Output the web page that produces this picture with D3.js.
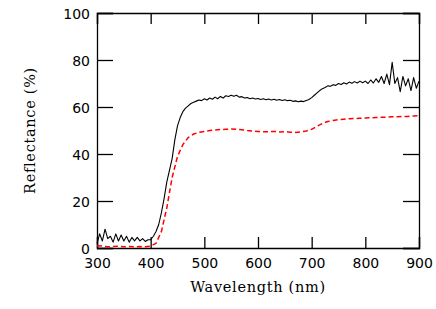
<!DOCTYPE html>
<html lang="en">
<head>
  <meta charset="UTF-8">
  <title>Reflectance</title>
  <script src="https://d3js.org/d3.v7.min.js"></script>
  <style>
  body { margin: 0; background: #fff; }
  .tick text { font-family: "DejaVu Sans", sans-serif; font-size: 14px; fill: #000; }
  .lab { font-family: "DejaVu Serif", serif; font-size: 14.5px; letter-spacing: 0.7px; }
  </style>
</head>
<body>
<div id="chart"></div>
<script>

// black curve, every 5 nm from 300 to 900
const wlBlack = d3.range(300, 901, 5);
const reflBlack = [
  2, 6, 3, 8, 4, 5, 2.5, 6, 3, 5.5,
  3, 5, 2.5, 4.5, 3, 4.5, 3, 4, 2.8, 3.5,
  3.5, 5, 7, 10, 15, 21, 28, 33, 38, 46,
  52, 55.5, 58, 59.5, 60.5, 61.5, 62, 62.5, 63, 62.7,
  63.5, 63, 63.8, 63.3, 64.2, 63.5, 64.5, 63.8, 64.8, 64.5,
  65, 64.6, 65, 64.2, 64.4, 63.8, 64, 63.5, 63.8, 63.4,
  63.6, 63.2, 63.5, 63.1, 63.4, 63, 63.3, 62.9, 63.2, 62.8,
  63.1, 62.7, 62.9, 62.4, 62.6, 62.2, 62.5, 62.3, 62.8, 63.2,
  64, 65, 66, 67, 67.8, 68.3, 69, 68.8, 69.5, 69.2,
  70, 69.6, 70.3, 69.8, 70.6, 70.1, 70.8, 70.2, 71, 70.3,
  71, 70, 71.5, 70.2, 72, 70.5, 73, 70, 74, 69.5,
  79, 70, 72.5, 66.5, 73, 69, 72, 67, 72.5, 68,
  71
];

// red dashed curve, every 10 nm
const wlRed = d3.range(300, 901, 10);
const reflRed = [
  1, 0.8, 0.5, 0.6, 0.8, 0.5, 0.6, 0.5, 0.6, 0.5,
  0.8, 2, 7, 17, 30, 39, 44, 47, 48.5, 49.2,
  49.6, 50, 50.2, 50.4, 50.5, 50.6, 50.5, 50.3, 50, 49.8,
  49.6, 49.5, 49.5, 49.6, 49.4, 49.5, 49.3, 49.2, 49.4, 49.8,
  50.5, 51.8, 53, 53.8, 54.3, 54.6, 54.8, 55, 55.1, 55.2,
  55.3, 55.4, 55.5, 55.6, 55.7, 55.8, 55.9, 56, 56, 56.2,
  56.3
];

const xTicks = [300, 400, 500, 600, 700, 800, 900];
const yTicks = [0, 20, 40, 60, 80, 100];

const w = 436, h = 309;
const margin = {top: 13, right: 17, bottom: 61, left: 97};
const gw = w - margin.left - margin.right;
const gh = h - margin.top - margin.bottom;

const svg = d3.select("#chart").append("svg")
  .attr("width", w)
  .attr("height", h);

const graph = svg.append("g")
  .attr("transform", `translate(${margin.left},${margin.top})`);

const x = d3.scaleLinear().domain([300, 900]).range([0, gw]);
const y = d3.scaleLinear().domain([0, 100]).range([gh, 0]);

// axes: labels on bottom/left, inward ticks on all four sides
const xAxis = graph.append("g")
  .attr("transform", `translate(0,${gh})`)
  .call(d3.axisBottom(x).tickValues(xTicks).tickSize(-11).tickPadding(6).tickFormat(d3.format("d")));
const yAxis = graph.append("g")
  .call(d3.axisLeft(y).tickValues(yTicks).tickSize(-16).tickPadding(7));
const xTop = graph.append("g")
  .call(d3.axisTop(x).tickValues(xTicks).tickSize(-11).tickFormat(""));
const yRight = graph.append("g")
  .attr("transform", `translate(${gw},0)`)
  .call(d3.axisRight(y).tickValues(yTicks).tickSize(-16).tickFormat(""));

[xAxis, yAxis, xTop, yRight].forEach(a => {
  a.select(".domain").attr("stroke", "#000").attr("stroke-width", 1.3);
  a.selectAll(".tick line").attr("stroke", "#000").attr("stroke-width", 1.3);
});
xAxis.selectAll(".tick text").attr("dy", "1em");
yAxis.selectAll(".tick text").attr("dy", "0.36em");

const line = d3.line()
  .x(d => x(d[0]))
  .y(d => y(d[1]));

graph.append("path")
  .datum(wlRed.map((d, i) => [d, reflRed[i]]))
  .attr("fill", "none")
  .attr("stroke", "#ff0000")
  .attr("stroke-width", 1.5)
  .attr("stroke-dasharray", "5,3")
  .attr("d", line);

graph.append("path")
  .datum(wlBlack.map((d, i) => [d, reflBlack[i]]))
  .attr("fill", "none")
  .attr("stroke", "#000")
  .attr("stroke-width", 1.1)
  .attr("stroke-linejoin", "round")
  .attr("d", line);

svg.append("text")
  .attr("class", "lab")
  .attr("x", margin.left + gw / 2)
  .attr("y", 292)
  .attr("text-anchor", "middle")
  .text("Wavelength (nm)");

svg.append("text")
  .attr("class", "lab")
  .attr("transform", `translate(35,${margin.top + gh / 2}) rotate(-90)`)
  .attr("text-anchor", "middle")
  .text("Reflectance (%)");

</script>
</body>
</html>
